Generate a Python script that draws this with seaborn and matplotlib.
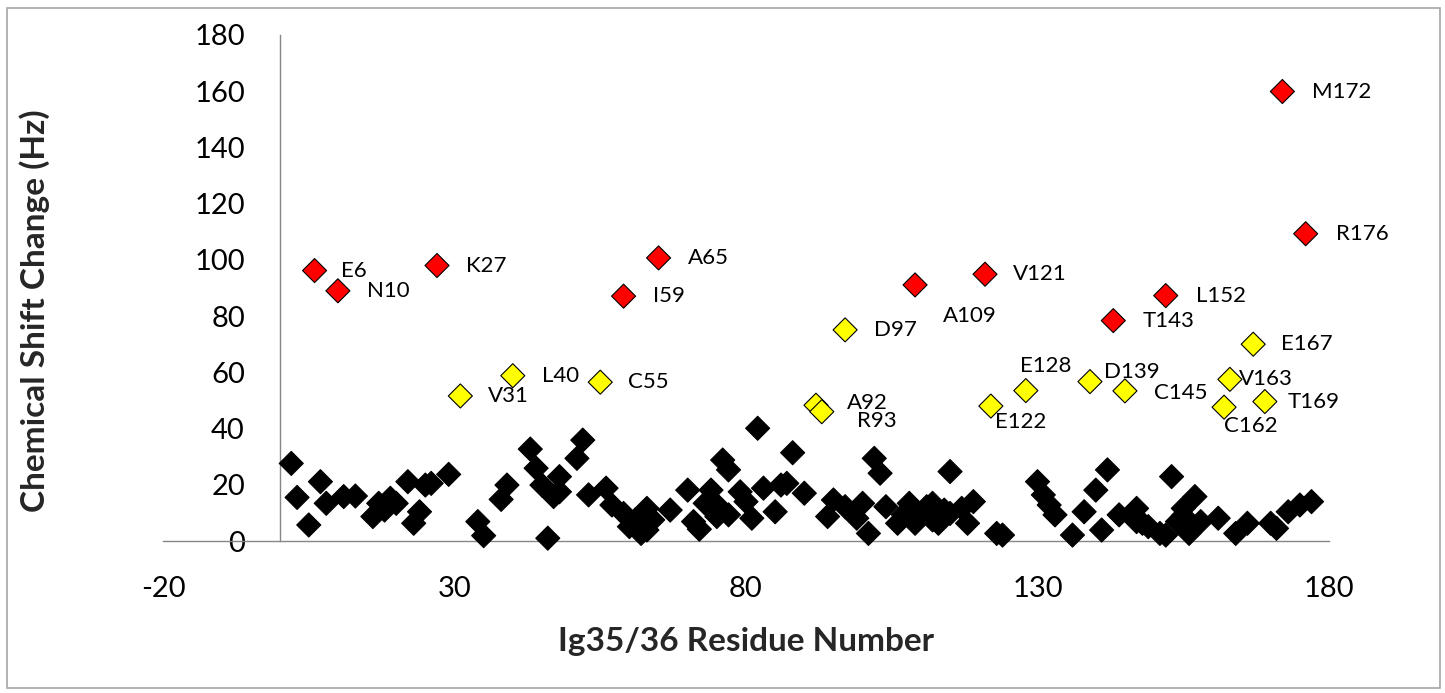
import matplotlib
matplotlib.use("Agg")
import matplotlib.pyplot as plt
import seaborn as sns
import pandas as pd
from matplotlib.patches import Rectangle

# Residues with small chemical shift changes
minor_res = [2, 3, 5, 7, 8, 11, 13, 16, 17, 19, 18, 20, 22, 23, 24, 25, 26, 29,
             34, 35, 38, 39, 43, 44, 45, 46, 47, 48, 48, 52, 51, 53, 56, 57, 59,
             62, 61, 63, 64, 67, 70, 71, 72, 74, 73, 75, 76, 77, 77, 79, 80, 81,
             82, 83, 85, 86, 87, 88, 90, 95, 94, 97, 100, 99, 101, 102, 103, 104,
             106, 108, 109, 111, 112, 115, 110, 113, 117, 119, 118, 123, 124, 130,
             131, 132, 133, 136, 138, 140, 141, 142, 144, 147, 147, 149, 151, 153,
             157, 155, 154, 156, 158, 161, 164, 166, 170, 171, 173, 175, 177,
             60, 63, 75, 107, 114, 112, 115, 148, 152, 155]
minor_shift = [27.6, 15.5, 5.7, 21.1, 13.4, 15.8, 16.0, 8.7, 13.4, 15.2, 11.0, 13.4,
               21.1, 6.3, 10.4, 19.9, 20.5, 23.7, 6.9, 1.9, 14.8, 19.9, 32.7, 25.9,
               19.9, 1.0, 15.8, 22.9, 17.5, 35.9, 29.4, 16.4, 18.8, 12.8, 9.8, 2.7,
               7.5, 11.6, 7.5, 11.0, 18.1, 6.9, 4.2, 18.1, 13.4, 12.8, 28.8, 25.3,
               9.3, 17.5, 14.0, 8.1, 40.1, 18.8, 10.4, 19.9, 20.5, 31.4, 17.0, 14.6,
               8.7, 12.2, 13.4, 8.1, 2.7, 29.4, 24.1, 12.2, 6.3, 13.4, 6.3, 12.2,
               7.5, 24.7, 9.8, 6.3, 11.6, 14.0, 6.3, 2.7, 2.1, 21.1, 16.4, 12.8,
               9.3, 2.1, 10.4, 18.1, 3.9, 25.3, 9.3, 11.6, 6.9, 5.1, 2.7, 22.9,
               15.8, 11.6, 6.9, 2.7, 6.9, 8.1, 2.7, 6.3, 6.3, 4.5, 10.4, 12.8, 14.0,
               5.1, 3.9, 8.7, 9.3, 11.0, 13.4, 9.8, 6.3, 2.1, 9.0]

# Residues with intermediate shifts (yellow)
medium_names = ["V31", "L40", "C55", "A92", "R93", "D97", "E122", "E128", "D139",
                "C145", "C162", "V163", "E167", "T169"]
medium_res = [31, 40, 55, 92, 93, 97, 122, 128, 139, 145, 162, 163, 167, 169]
medium_shift = [51.6, 58.8, 56.5, 48.3, 46.0, 75.1, 48.0, 53.5, 56.7, 53.4, 47.6,
                57.5, 70.0, 49.6]

# Residues with large shifts (red)
major_names = ["E6", "N10", "K27", "I59", "A65", "A109", "V121", "T143", "L152",
               "M172", "R176"]
major_res = [6, 10, 27, 59, 65, 109, 121, 143, 152, 172, 176]
major_shift = [96.2, 89.0, 98.0, 87.1, 100.7, 91.1, 94.9, 78.4, 87.3, 159.9, 109.3]

x_ticks = [-20, 30, 80, 130, 180]
y_ticks = list(range(0, 181, 20))

df = pd.concat([
    pd.DataFrame({"res": minor_res, "shift": minor_shift, "group": "minor", "name": ""}),
    pd.DataFrame({"res": medium_res, "shift": medium_shift, "group": "medium", "name": medium_names}),
    pd.DataFrame({"res": major_res, "shift": major_shift, "group": "major", "name": major_names}),
], ignore_index=True)

sns.set_theme(style="white")
plt.rcParams["font.family"] = ["Lato", "DejaVu Sans"]
plt.rcParams["axes.unicode_minus"] = False

W, H = 1445, 693
fig = plt.figure(figsize=(W / 100, H / 100), dpi=100)
fig.patch.set_facecolor("white")
ax = fig.add_axes([163 / W, 1 - 541 / H, (1329 - 163) / W, (541 - 35) / H])

palette = {"minor": "black", "medium": "#ffff00", "major": "#ff0000"}
sns.scatterplot(data=df, x="res", y="shift", hue="group", palette=palette,
                marker="D", s=150, edgecolor="black", linewidth=0.8,
                legend=False, ax=ax, clip_on=False, zorder=3)

# Residue labels next to the coloured markers (pixel offsets of the text)
label_offsets = {
    "E6": (26, 0), "N10": (29, 0), "K27": (29, 0), "I59": (29, 0), "A65": (29, 0),
    "A109": (28, -31), "V121": (28, 0), "T143": (29, 0), "L152": (30, 0),
    "M172": (30, 0), "R176": (30, 0), "V31": (28, 0), "L40": (29, 0), "C55": (28, 0),
    "A92": (31, 2), "R93": (35, -9), "D97": (29, 0), "E122": (4, -16),
    "E128": (-6, 25), "D139": (14, 10), "C145": (29, -2), "C162": (0, -19),
    "V163": (9, 0), "E167": (28, 0), "T169": (23, 0),
}
for _, row in df[df["name"] != ""].iterrows():
    dx, dy = label_offsets[row["name"]]
    ax.annotate(row["name"], (row["res"], row["shift"]), xytext=(dx, dy),
                textcoords="offset pixels", ha="left", va="center",
                fontsize=16, color="black", zorder=4)

ax.set_xlim(-20, 180)
ax.set_ylim(0, 180)
ax.set_xticks(x_ticks)
ax.set_yticks(y_ticks)
ax.set_xlabel("")
ax.set_ylabel("")

axis_grey = "#868686"
for side in ["top", "right"]:
    ax.spines[side].set_visible(False)
ax.spines["left"].set_position(("data", 0))
ax.spines["left"].set_color(axis_grey)
ax.spines["bottom"].set_color(axis_grey)
ax.spines["left"].set_linewidth(1.0)
ax.spines["bottom"].set_linewidth(1.0)
ax.tick_params(axis="both", direction="out", length=7, width=1.0,
               color=axis_grey, labelsize=21, labelcolor="black", pad=18)
ax.grid(False)
ax.set_facecolor("none")

fig.text(746 / W, 1 - 642 / H, "Ig35/36 Residue Number", ha="center", va="center",
         fontsize=24, fontweight="bold")
fig.text(35 / W, 1 - 311 / H, "Chemical Shift Change (Hz)", ha="center", va="center",
         rotation=90, fontsize=24, fontweight="bold")

# Chart frame
fig.patches.append(Rectangle((7 / W, 1 - 688 / H), (1440 - 7) / W, (688 - 8) / H,
                             transform=fig.transFigure, fill=False,
                             edgecolor="#a6a6a6", linewidth=1.2))

fig.savefig("out.png", dpi=100)
